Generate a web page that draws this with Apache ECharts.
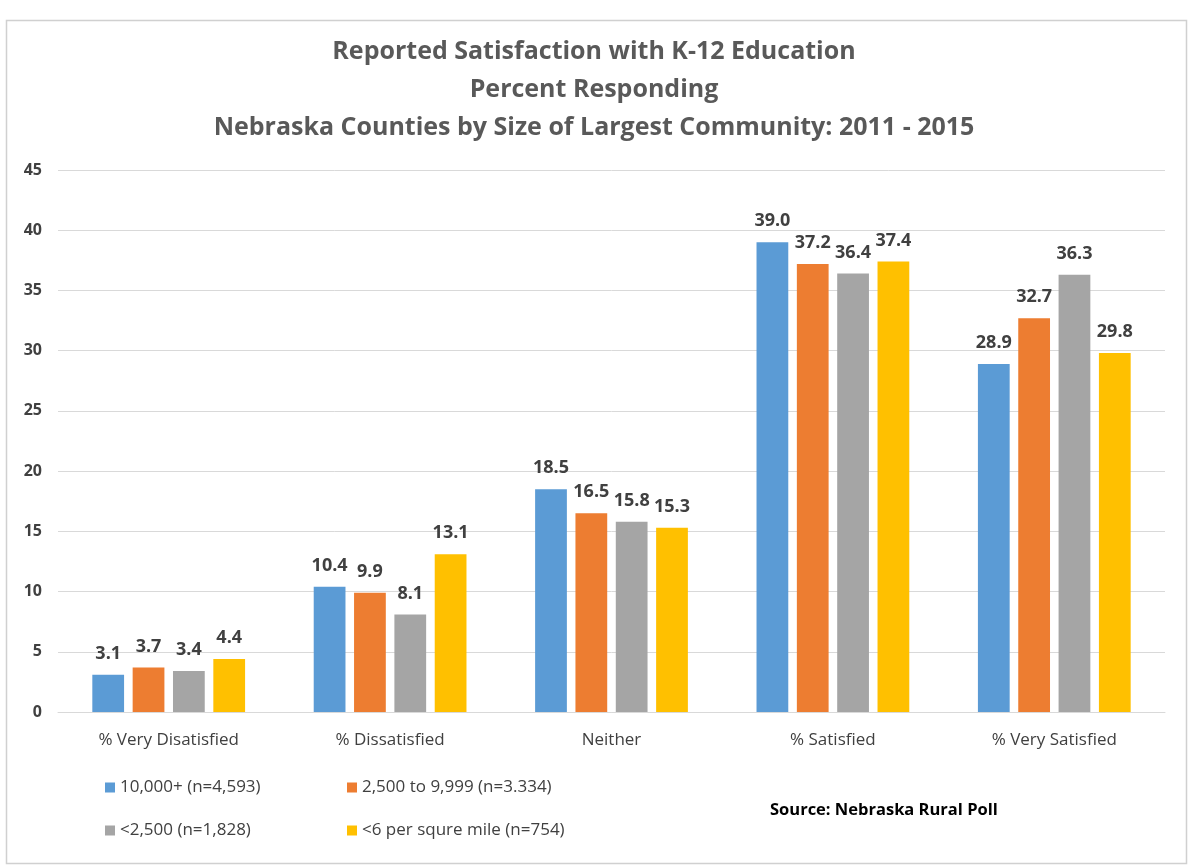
<!DOCTYPE html>
<html><head><meta charset="utf-8">
<script src="https://cdn.jsdelivr.net/npm/echarts@6/dist/echarts.min.js"></script>
<style>html,body{margin:0;padding:0;background:#fff}#c{width:1188px;height:867px}</style>
</head><body><div id="c"></div>
<script>
const categories = ['% Very Disatisfied', '% Dissatisfied', 'Neither', '% Satisfied', '% Very Satisfied'];
const seriesNames = ['10,000+ (n=4,593)', '2,500 to 9,999 (n=3.334)', '<2,500 (n=1,828)', '<6 per squre mile (n=754)'];
const s10000 = [3.1, 10.4, 18.5, 39.0, 28.9];
const s2500 = [3.7, 9.9, 16.5, 37.2, 32.7];
const sLt2500 = [3.4, 8.1, 15.8, 36.4, 36.3];
const sLt6 = [4.4, 13.1, 15.3, 37.4, 29.8];
const colors = ['#5B9BD5', '#ED7D31', '#A5A5A5', '#FFC000'];
const titleLines = ['Reported Satisfaction with K-12 Education', 'Percent Responding', 'Nebraska Counties by Size of Largest Community: 2011 - 2015'];
const sourceText = 'Source: Nebraska Rural Poll';

const FONT = '"Liberation Sans Narrow", "Open Sans", sans-serif';
const vals = [s10000, s2500, sLt2500, sLt6];
const chart = echarts.init(document.getElementById('c'));
chart.setOption({
  animation: false,
  backgroundColor: '#fff',
  title: {
    text: titleLines.join('\n'), left: 'center', top: 28,
    textStyle: { fontFamily: FONT, fontSize: 25, fontWeight: 'bold', color: '#595959', lineHeight: 38 }
  },
  graphic: [
    { type: 'rect', left: 4, top: 18, shape: { width: 1180, height: 843 }, style: { fill: 'none', stroke: '#d0d0d0', lineWidth: 1.5 }, silent: true },
    { type: 'text', left: 770, top: 802, style: { text: sourceText, fontFamily: FONT, fontSize: 16.5, fontWeight: 'bold', fill: '#000' } }
  ],
  legend: [
    { data: [seriesNames[0], seriesNames[2]], orient: 'vertical', left: 100, top: 774, itemGap: 26, itemWidth: 10, itemHeight: 10, icon: 'rect',
      textStyle: { fontFamily: FONT, fontSize: 17, color: '#404040' } },
    { data: [seriesNames[1], seriesNames[3]], orient: 'vertical', left: 342, top: 774, itemGap: 26, itemWidth: 10, itemHeight: 10, icon: 'rect',
      textStyle: { fontFamily: FONT, fontSize: 17, color: '#404040' } }
  ],
  grid: { left: 58, right: 23, top: 170, bottom: 155 },
  xAxis: {
    type: 'category', data: categories,
    axisLine: { lineStyle: { color: '#d9d9d9' } }, axisTick: { show: false },
    axisLabel: { fontFamily: FONT, fontSize: 17, color: '#404040', margin: 20 }
  },
  yAxis: {
    type: 'value', min: 0, max: 45, interval: 5,
    axisLine: { show: false }, axisTick: { show: false },
    splitLine: { lineStyle: { color: '#d9d9d9' } },
    axisLabel: { fontFamily: FONT, fontSize: 16, fontWeight: 'bold', color: '#404040', margin: 16 }
  },
  series: seriesNames.map((n, i) => ({
    name: n, type: 'bar', data: vals[i], barGap: '27%', barCategoryGap: '31%',
    itemStyle: { color: colors[i] },
    label: { show: true, position: 'top', distance: 12, formatter: p => p.value.toFixed(1),
      fontFamily: FONT, fontSize: 18, fontWeight: 'bold', color: '#404040' }
  }))
});
</script></body></html>
